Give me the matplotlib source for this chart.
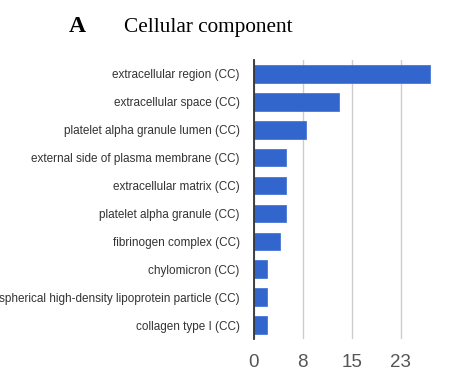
import numpy as np
import matplotlib.pyplot as plt

# GO cellular component terms and gene counts
terms = [
    "extracellular region (CC)",
    "extracellular space (CC)",
    "platelet alpha granule lumen (CC)",
    "external side of plasma membrane (CC)",
    "extracellular matrix (CC)",
    "platelet alpha granule (CC)",
    "fibrinogen complex (CC)",
    "chylomicron (CC)",
    "spherical high-density lipoprotein particle (CC)",
    "collagen type I (CC)",
]
counts = [27, 13, 8, 5, 5, 5, 4, 2, 2, 2]
xticks = [0, 7.5, 15, 22.5]
xtick_labels = ["0", "8", "15", "23"]

fig = plt.figure(figsize=(4.56, 3.83), dpi=100)
ax = fig.add_axes([0.5564, 0.1149, 0.4156, 0.7284])

y = np.arange(len(terms))
ax.barh(y, counts, height=0.63, color="#3366cc", edgecolor="#4a78d6",
        linewidth=0.6, zorder=3)
ax.set_ylim(len(terms) - 0.5, -0.5)
ax.set_xlim(0, 29)

ax.set_xticks(xticks)
ax.set_xticklabels(xtick_labels, fontsize=13.5, color="#555555",
                   family="Liberation Sans")
ax.set_yticks(y)
ax.set_yticklabels(terms, fontsize=8.5, color="#333333",
                   family="Liberation Sans")
ax.tick_params(axis="both", length=0)
ax.tick_params(axis="x", pad=11)
ax.tick_params(axis="y", pad=10)

ax.grid(axis="x", color="#cccccc", linewidth=1, zorder=0)
for s in ["top", "right", "bottom"]:
    ax.spines[s].set_visible(False)
ax.spines["left"].set_color("#333333")
ax.spines["left"].set_linewidth(1.3)
ax.spines["left"].set_zorder(4)

fig.text(0.169, 0.93, "A", fontsize=17, fontweight="bold",
         family="Liberation Serif", ha="center", va="center")
fig.text(0.272, 0.928, "Cellular component", fontsize=15.3,
         family="Liberation Serif", ha="left", va="center")

fig.savefig("out.png", dpi=100)
